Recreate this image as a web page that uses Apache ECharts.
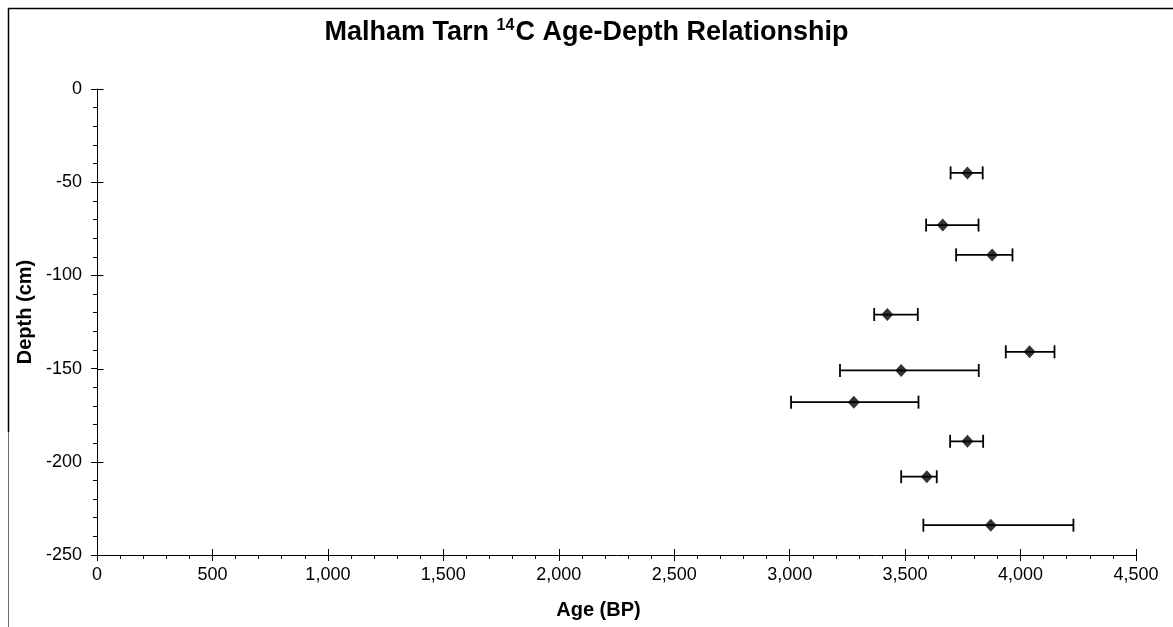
<!DOCTYPE html>
<html>
<head>
<meta charset="utf-8">
<script src="https://cdn.jsdelivr.net/npm/echarts@6/dist/echarts.min.js"></script>
<style>
html,body{margin:0;padding:0;background:#fff;}
#chart{width:1173px;height:627px;}
</style>
</head>
<body>
<div id="chart"></div>
<script>
// Data
var depths  = [-45, -73, -89, -121, -141, -151, -168, -189, -208, -234];
var ages    = [3770, 3663, 3877, 3423, 4039, 3483, 3278, 3770, 3594, 3871];
var errLow  = [3697, 3591, 3721, 3366, 3936, 3218, 3006, 3695, 3483, 3579];
var errHigh = [3836, 3818, 3965, 3555, 4147, 3819, 3558, 3838, 3637, 4229];
var xTicks = [0, 500, 1000, 1500, 2000, 2500, 3000, 3500, 4000, 4500];
var yTicks = [0, -50, -100, -150, -200, -250];

var points = ages.map(function (a, i) { return [a, depths[i]]; });
var bars = ages.map(function (a, i) { return [errLow[i], errHigh[i], depths[i]]; });
var yTickData = yTicks.map(function (v) { return [xTicks[0], v]; });

var chart = echarts.init(document.getElementById('chart'), null, {renderer: 'canvas'});
var FONT = 'Liberation Sans, Arial, sans-serif';
var GRID = {left: 97, right: 37, top: 89, bottom: 72};
var GH = 627 - GRID.top - GRID.bottom;

var baseX = {
  type: 'value', min: xTicks[0], max: xTicks[xTicks.length - 1], interval: 500,
  gridIndex: 0
};

chart.setOption({
  backgroundColor: '#fff',
  animation: false,
  title: {
    text: 'Malham Tarn {sup|14}C Age-Depth Relationship',
    left: 'center', top: 13,
    padding: [5, 14, 5, 5],
    textStyle: {
      fontFamily: FONT, fontSize: 27, fontWeight: 'bold', color: '#000',
      rich: {
        sup: {fontFamily: FONT, fontSize: 16, fontWeight: 'bold', color: '#000', verticalAlign: 'top', padding: [0, 1, 13, 0]}
      }
    }
  },
  grid: {left: GRID.left, right: GRID.right, top: GRID.top, bottom: GRID.bottom, containLabel: false},
  xAxis: [
    Object.assign({}, baseX, {
      position: 'bottom',
      name: 'Age (BP)', nameLocation: 'middle', nameGap: 45,
      nameTextStyle: {fontFamily: FONT, fontSize: 20, fontWeight: 'bold', color: '#000', padding: [0, 36, 0, 0]},
      axisLine: {show: true, onZero: false, lineStyle: {color: '#000', width: 1}},
      axisTick: {show: true, inside: false, length: 6, lineStyle: {color: '#000'}},
      minorTick: {show: true, splitNumber: 5, length: 4, lineStyle: {color: '#000'}},
      splitLine: {show: false},
      axisLabel: {
        fontFamily: FONT, fontSize: 18, color: '#000', margin: 11,
        formatter: function (v) { return v.toLocaleString('en-US'); }
      }
    }),
    Object.assign({}, baseX, {
      position: 'top', offset: -GH,
      axisLine: {show: false},
      axisTick: {show: true, inside: false, length: 6, lineStyle: {color: '#000'}},
      axisLabel: {show: false}, splitLine: {show: false}
    })
  ],
  yAxis: [
    {
      type: 'value', min: yTicks[yTicks.length - 1], max: yTicks[0], interval: 50,
      position: 'left',
      name: 'Depth (cm)', nameLocation: 'middle', nameGap: 59, nameRotate: 90,
      nameTextStyle: {fontFamily: FONT, fontSize: 20, fontWeight: 'bold', color: '#000', padding: [0, 0, 0, 20]},
      axisLine: {show: true, onZero: false, lineStyle: {color: '#000', width: 1}},
      axisTick: {show: true, inside: false, length: 6, lineStyle: {color: '#000'}},
      minorTick: {show: true, splitNumber: 5, length: 4, lineStyle: {color: '#000'}},
      splitLine: {show: false},
      axisLabel: {fontFamily: FONT, fontSize: 18, color: '#000', margin: 15}
    }
  ],
  graphic: [
    {type: 'line', shape: {x1: 8, y1: 8.5, x2: 1173, y2: 8.5}, style: {stroke: '#000', lineWidth: 1.5}, silent: true},
    {type: 'line', shape: {x1: 8.5, y1: 8, x2: 8.5, y2: 432}, style: {stroke: '#000', lineWidth: 1.5}, silent: true},
    {type: 'line', shape: {x1: 8.5, y1: 432, x2: 8.5, y2: 627}, style: {stroke: '#444', lineWidth: 0.8}, silent: true}
  ],
  series: [
    {
      // inner half of the crossing major ticks on the y axis
      type: 'custom',
      xAxisIndex: 0, yAxisIndex: 0,
      data: yTickData,
      clip: false, silent: true,
      renderItem: function (params, api) {
        var p = api.coord([api.value(0), api.value(1)]);
        var x = Math.round(p[0]) + 0.5, y = Math.round(p[1]) + 0.5;
        return {type: 'line', shape: {x1: x, y1: y, x2: x + 6, y2: y}, style: {stroke: '#000', lineWidth: 1}};
      },
      z: 1
    },
    {
      type: 'custom',
      xAxisIndex: 0, yAxisIndex: 0,
      data: bars,
      renderItem: function (params, api) {
        var lo = api.coord([api.value(0), api.value(2)]);
        var hi = api.coord([api.value(1), api.value(2)]);
        var h = 6.5;
        var style = {stroke: '#000', lineWidth: 1.8, fill: null};
        return {
          type: 'group',
          children: [
            {type: 'line', shape: {x1: lo[0], y1: lo[1], x2: hi[0], y2: hi[1]}, style: style},
            {type: 'line', shape: {x1: lo[0], y1: lo[1] - h, x2: lo[0], y2: lo[1] + h}, style: style},
            {type: 'line', shape: {x1: hi[0], y1: hi[1] - h, x2: hi[0], y2: hi[1] + h}, style: style}
          ]
        };
      },
      z: 2
    },
    {
      type: 'scatter',
      xAxisIndex: 0, yAxisIndex: 0,
      data: points,
      symbol: 'diamond', symbolSize: [12, 13],
      itemStyle: {color: '#000'},
      z: 3
    }
  ]
});
</script>
</body>
</html>
